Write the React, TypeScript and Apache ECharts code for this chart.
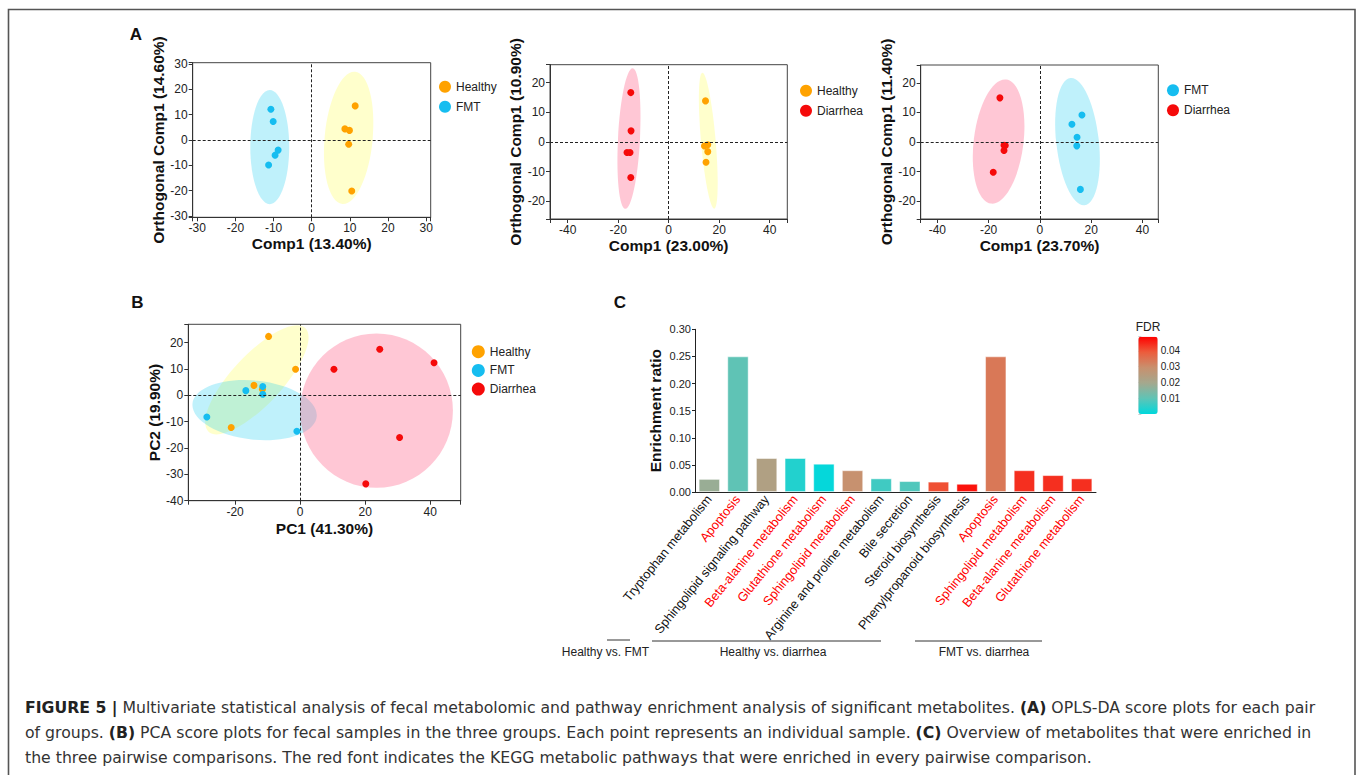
import React, { useEffect, useRef } from 'react';
import * as echarts from 'echarts';

const FONT = '"Liberation Sans", Arial, Helvetica, sans-serif';
const CAPTION_FONT = '"DejaVu Sans", "Liberation Sans", Arial, sans-serif';

const COLOR_HEALTHY = '#ffa200';
const COLOR_FMT = '#16bdf0';
const COLOR_DIARRHEA = '#f50a0a';
const FILL_HEALTHY = 'rgba(255,255,120,0.38)';
const FILL_FMT = 'rgba(0,200,240,0.25)';
const FILL_DIARRHEA = 'rgba(255,95,135,0.35)';

// ---------- Panel A (OPLS-DA score plots) ----------
// ellipse arrays: [centerX, centerY, radiusX, radiusY, rotationDeg]
const a1Healthy = [[11.4, 13.5], [8.7, 4.4], [9.9, 3.8], [9.7, -1.7], [10.5, -20.2]];
const a1Fmt = [[-10.7, 12.2], [-10.1, 7.3], [-8.8, -4.0], [-9.6, -6.0], [-11.3, -9.9]];
const a1EllipseHealthy = [9.7, 0.85, 6.3, 26.3, -5.5];
const a1EllipseFmt = [-11, -2.8, 5.1, 22.6, 0];

const a2Healthy = [[14.6, 13.8], [14.2, -1.4], [15.5, -1.0], [15.5, -3.3], [14.8, -6.9]];
const a2Diarrhea = [[-15, 16.6], [-14.9, 3.7], [-16.5, -3.6], [-15.3, -3.6], [-15, -12]];
const a2EllipseHealthy = [15.7, 0.4, 2.9, 23, 5];
const a2EllipseDiarrhea = [-15.7, 1.1, 4.35, 23.7, -3];

const a3Fmt = [[16.4, 9.1], [12.5, 6.0], [14.5, 1.6], [14.4, -1.3], [15.8, -16]];
const a3Diarrhea = [[-15.6, 14.9], [-14, -1.1], [-13.5, -1.2], [-14, -2.9], [-18.2, -10.2]];
const a3EllipseFmt = [14.7, 0.15, 8.3, 21.6, 6.4];
const a3EllipseDiarrhea = [-16.1, 0.15, 9.7, 21.1, -7];

// ---------- Panel B (PCA) ----------
const bHealthy = [[-9.7, 22.4], [-1.4, 9.9], [-14.2, 3.8], [-11.6, 2.3], [-21.2, -12.2]];
const bFmt = [[-16.7, 1.8], [-11.5, 3.4], [-11.5, 0.4], [-28.7, -8.2], [-1, -13.6]];
const bDiarrhea = [[10.4, 9.9], [24.5, 17.5], [41.2, 12.4], [30.6, -16], [20.2, -33.6]];
const bEllipseHealthy = [-13.3, 5.9, 21.8, 9.5, 47];
const bEllipseFmt = [-14, -5.6, 19.2, 11.2, -6];
const bEllipseDiarrhea = [23.5, -5.8, 23.5, 29.3, 0];

// ---------- Panel C (enrichment) ----------
const cCategories = [
  'Tryptophan metabolism',
  'Apoptosis',
  'Sphingolipid signaling pathway',
  'Beta-alanine metabolism',
  'Glutathione metabolism',
  'Sphingolipid metabolism',
  'Arginine and proline metabolism',
  'Bile secretion',
  'Steroid biosynthesis',
  'Phenylpropanoid biosynthesis',
  'Apoptosis',
  'Sphingolipid metabolism',
  'Beta-alanine metabolism',
  'Glutathione metabolism',
];
const cHighlighted = [false, true, false, true, true, true, false, false, false, false, true, true, true, true];
const cRatios = [0.024, 0.25, 0.0625, 0.0625, 0.052, 0.04, 0.025, 0.02, 0.019, 0.015, 0.25, 0.04, 0.031, 0.025];
const cFdr = [0.018, 0.01, 0.023, 0.0035, 0.0005, 0.029, 0.0067, 0.0083, 0.0405, 0.047, 0.034, 0.044, 0.044, 0.044];
const fdrColors = ['#00d8dc', '#5ec4b6', '#a4a88e', '#c8906e', '#ec5c3c', '#ff0000'];

const captionLines = [
  '{b|FIGURE 5 |} Multivariate statistical analysis of fecal metabolomic and pathway enrichment analysis of significant metabolites. {b|(A)} OPLS-DA score plots for each pair',
  'of groups. {b|(B)} PCA score plots for fecal samples in the three groups. Each point represents an individual sample. {b|(C)} Overview of metabolites that were enriched in',
  'the three pairwise comparisons. The red font indicates the KEGG metabolic pathways that were enriched in every pairwise comparison.',
];

const nameStyle = { fontWeight: 'bold' as const, fontSize: 15.5, color: '#111', fontFamily: FONT };

function stepFormatter(step: number, digits = 0) {
  return (v: number) => {
    const r = v / step;
    if (Math.abs(r - Math.round(r)) > 1e-6) return '';
    return digits ? v.toFixed(digits) : String(Math.round(v));
  };
}

function valueAxis(gridIndex: number, min: number, max: number, name: string, nameGap: number, step: number) {
  return {
    type: 'value',
    gridIndex,
    min,
    max,
    name,
    nameLocation: 'middle',
    nameGap,
    nameTextStyle: nameStyle,
    axisLine: { show: true, onZero: false, lineStyle: { color: '#333', width: 1 } },
    axisTick: { show: true, length: 4, lineStyle: { color: '#333' } },
    axisLabel: { fontSize: 12, color: '#222', margin: 5, formatter: stepFormatter(step), fontFamily: FONT },
    splitLine: { show: false },
  };
}

function ellipseSeries(axisIndex: number, e: number[], fill: string) {
  return {
    type: 'custom',
    xAxisIndex: axisIndex,
    yAxisIndex: axisIndex,
    silent: true,
    data: [e],
    encode: { x: 0, y: 1 },
    renderItem: (_p: any, api: any) => {
      const c = api.coord([api.value(0), api.value(1)]);
      const s = api.size([api.value(2), api.value(3)]);
      return {
        type: 'ellipse',
        x: c[0],
        y: c[1],
        rotation: (api.value(4) * Math.PI) / 180,
        shape: { cx: 0, cy: 0, rx: s[0], ry: s[1] },
        style: { fill },
      };
    },
  };
}

const zeroLines = {
  silent: true,
  symbol: ['none', 'none'],
  label: { show: false },
  lineStyle: { type: [3, 2], color: '#222', width: 1 },
  emphasis: { disabled: true },
  data: [{ xAxis: 0 }, { yAxis: 0 }],
};

function pointSeries(axisIndex: number, name: string, data: number[][], color: string, withZero = false) {
  const s: any = {
    type: 'scatter',
    name,
    xAxisIndex: axisIndex,
    yAxisIndex: axisIndex,
    data,
    symbolSize: 7,
    itemStyle: { color, opacity: 1 },
    emphasis: { disabled: true },
  };
  if (withZero) s.markLine = zeroLines;
  return s;
}

function legendAt(left: number, top: number, data: string[], size: number, gap: number) {
  return {
    data,
    left,
    top,
    orient: 'vertical',
    icon: 'circle',
    itemWidth: size,
    itemHeight: size,
    itemGap: gap,
    padding: 0,
    selectedMode: false,
    textStyle: { fontSize: 12, color: '#222', fontFamily: FONT },
  };
}

function text(x: number, y: number, t: string, size: number, weight: string, align = 'center', color = '#111') {
  return {
    type: 'text',
    x,
    y,
    silent: true,
    style: {
      text: t,
      fontSize: size,
      fontWeight: weight,
      fontFamily: FONT,
      fill: color,
      textAlign: align,
      align,
      textVerticalAlign: 'middle',
      verticalAlign: 'middle',
    },
  };
}

function hline(x1: number, x2: number, y: number) {
  return { type: 'line', silent: true, shape: { x1, y1: y, x2, y2: y }, style: { stroke: '#333', lineWidth: 1 } };
}

export default function App() {
  const ref = useRef<HTMLDivElement>(null);
  useEffect(() => {
    document.body.style.margin = '0';
    document.body.style.overflow = 'hidden';
    const chart = echarts.init(ref.current!, null, { renderer: 'svg' });

    const series: any[] = [
      // A1
      ellipseSeries(0, a1EllipseFmt, FILL_FMT),
      ellipseSeries(0, a1EllipseHealthy, FILL_HEALTHY),
      pointSeries(0, 'Healthy', a1Healthy, COLOR_HEALTHY),
      pointSeries(0, 'FMT', a1Fmt, COLOR_FMT, true),
      // A2
      ellipseSeries(1, a2EllipseDiarrhea, FILL_DIARRHEA),
      ellipseSeries(1, a2EllipseHealthy, FILL_HEALTHY),
      pointSeries(1, 'Healthy', a2Healthy, COLOR_HEALTHY),
      pointSeries(1, 'Diarrhea', a2Diarrhea, COLOR_DIARRHEA, true),
      // A3
      ellipseSeries(2, a3EllipseDiarrhea, FILL_DIARRHEA),
      ellipseSeries(2, a3EllipseFmt, FILL_FMT),
      pointSeries(2, 'FMT', a3Fmt, COLOR_FMT),
      pointSeries(2, 'Diarrhea', a3Diarrhea, COLOR_DIARRHEA, true),
      // B
      ellipseSeries(3, bEllipseHealthy, FILL_HEALTHY),
      pointSeries(3, 'Healthy', bHealthy, COLOR_HEALTHY),
      ellipseSeries(3, bEllipseFmt, FILL_FMT),
      pointSeries(3, 'FMT', bFmt, COLOR_FMT),
      ellipseSeries(3, bEllipseDiarrhea, FILL_DIARRHEA),
      pointSeries(3, 'Diarrhea', bDiarrhea, COLOR_DIARRHEA, true),
    ];
    const barIndex = series.length;
    series.push({
      type: 'bar',
      name: 'Enrichment ratio',
      xAxisIndex: 4,
      yAxisIndex: 4,
      data: cRatios.map((v, i) => [i, v, cFdr[i]]),
      encode: { x: 0, y: 1 },
      barWidth: '74%',
      itemStyle: { borderColor: 'rgba(255,255,255,0.6)', borderWidth: 0.8 },
      emphasis: { disabled: true },
    });

    const captionGraphics = captionLines.map((line, i) => ({
      type: 'text',
      x: 25,
      y: 707 + i * 25,
      silent: true,
      style: {
        text: line,
        fontSize: 15.7,
        fontFamily: CAPTION_FONT,
        fill: '#333',
        textAlign: 'left',
        align: 'left',
        textVerticalAlign: 'middle',
        verticalAlign: 'middle',
        rich: { b: { fontWeight: 'bold', fontSize: 15.7, fontFamily: CAPTION_FONT, fill: '#222' } },
      },
    }));

    const option: any = {
      animation: false,
      textStyle: { fontFamily: FONT },
      grid: [
        { left: 192.7, top: 62.7, width: 238, height: 154.6, show: true, borderColor: '#444', borderWidth: 1, backgroundColor: 'transparent', outerBoundsMode: 'none' },
        { left: 550, top: 64.7, width: 237.3, height: 154.3, show: true, borderColor: '#444', borderWidth: 1, backgroundColor: 'transparent', outerBoundsMode: 'none' },
        { left: 920.7, top: 65, width: 237.6, height: 154, show: true, borderColor: '#444', borderWidth: 1, backgroundColor: 'transparent', outerBoundsMode: 'none' },
        { left: 188.3, top: 324.3, width: 272.4, height: 176.4, show: true, borderColor: '#444', borderWidth: 1, backgroundColor: 'transparent', outerBoundsMode: 'none' },
        { left: 695, top: 329.3, width: 401, height: 162.7, outerBoundsMode: 'none' },
        { left: 1138.3, top: 336.7, width: 19.4, height: 77.3, outerBoundsMode: 'none' },
      ],
      xAxis: [
        valueAxis(0, -31.2, 31.2, 'Comp1 (13.40%)', 17, 10),
        valueAxis(1, -47, 47, 'Comp1 (23.00%)', 18, 20),
        valueAxis(2, -46.5, 46.2, 'Comp1 (23.70%)', 18, 20),
        valueAxis(3, -34.4, 49.4, 'PC1 (41.30%)', 20, 20),
        {
          type: 'category',
          gridIndex: 4,
          data: cCategories.map((c, i) => ({ value: c, textStyle: { color: cHighlighted[i] ? '#ff0000' : '#111' } })),
          axisLine: { show: true, lineStyle: { color: '#222' } },
          axisTick: { show: false },
          axisLabel: { interval: 0, rotate: 51, fontSize: 12.7, margin: 5, fontFamily: FONT },
        },
        { type: 'value', gridIndex: 5, show: false, min: 0, max: 1 },
      ],
      yAxis: [
        valueAxis(0, -30.6, 30.6, 'Orthogonal Comp1 (14.60%)', 26, 10),
        valueAxis(1, -26, 26, 'Orthogonal Comp1 (10.90%)', 20, 10),
        valueAxis(2, -26, 26, 'Orthogonal Comp1 (11.40%)', 20, 10),
        valueAxis(3, -40, 27, 'PC2 (19.90%)', 26, 10),
        {
          type: 'value',
          gridIndex: 4,
          min: 0,
          max: 0.3,
          interval: 0.05,
          name: 'Enrichment ratio',
          nameLocation: 'middle',
          nameGap: 32,
          nameTextStyle: nameStyle,
          axisLine: { show: true, lineStyle: { color: '#222' } },
          axisTick: { show: true, length: 3, lineStyle: { color: '#222' } },
          axisLabel: { fontSize: 11, color: '#222', margin: 4, formatter: (v: number) => v.toFixed(2), fontFamily: FONT },
          splitLine: { show: false },
        },
        {
          type: 'value',
          gridIndex: 5,
          position: 'right',
          min: 0,
          max: 0.049,
          axisLine: { show: false },
          axisTick: { show: true, length: 3, lineStyle: { color: '#cfcfcf' } },
          axisLabel: {
            fontSize: 10,
            color: '#222',
            margin: 3,
            fontFamily: FONT,
            formatter: (v: number) => (v > 0.001 && Math.abs(v * 100 - Math.round(v * 100)) < 1e-6 ? v.toFixed(2) : ''),
          },
          splitLine: { show: false },
        },
      ],
      visualMap: {
        type: 'continuous',
        seriesIndex: barIndex,
        dimension: 2,
        min: 0,
        max: 0.049,
        inRange: { color: fdrColors },
        left: 1138.3,
        top: 336.7,
        itemWidth: 19.4,
        itemHeight: 77.3,
        padding: 0,
        calculable: false,
        hoverLink: false,
        orient: 'vertical',
      },
      legend: [
        legendAt(439, 80.7, ['Healthy', 'FMT'], 12, 8),
        legendAt(800, 84.7, ['Healthy', 'Diarrhea'], 12, 8),
        legendAt(1167, 84.3, ['FMT', 'Diarrhea'], 12, 8),
        legendAt(471.8, 345.2, ['Healthy', 'FMT', 'Diarrhea'], 13, 5.7),
      ],
      graphic: [
        {
          type: 'polyline',
          silent: true,
          shape: { points: [[8.5, 780], [8.5, 9.5], [1355, 9.5], [1355, 780]] },
          style: { stroke: '#555', lineWidth: 1.6, fill: null },
        },
        text(136, 34, 'A', 17, 'bold'),
        text(137.5, 302, 'B', 17, 'bold'),
        text(620, 302, 'C', 17, 'bold'),
        text(1148, 327, 'FDR', 12, 'normal', 'center', '#222'),
        hline(607, 630, 640),
        hline(652, 881, 641),
        hline(915, 1042, 641),
        text(605.5, 652, 'Healthy vs. FMT', 12, 'normal', 'center', '#222'),
        text(773, 652, 'Healthy vs. diarrhea', 12, 'normal', 'center', '#222'),
        text(984, 652, 'FMT vs. diarrhea', 12, 'normal', 'center', '#222'),
        ...captionGraphics,
      ],
      series,
    };
    chart.setOption(option);
    return () => chart.dispose();
  }, []);
  return <div ref={ref} style={{ position: 'absolute', left: 0, top: 0, width: 1357, height: 775 }} />;
}
